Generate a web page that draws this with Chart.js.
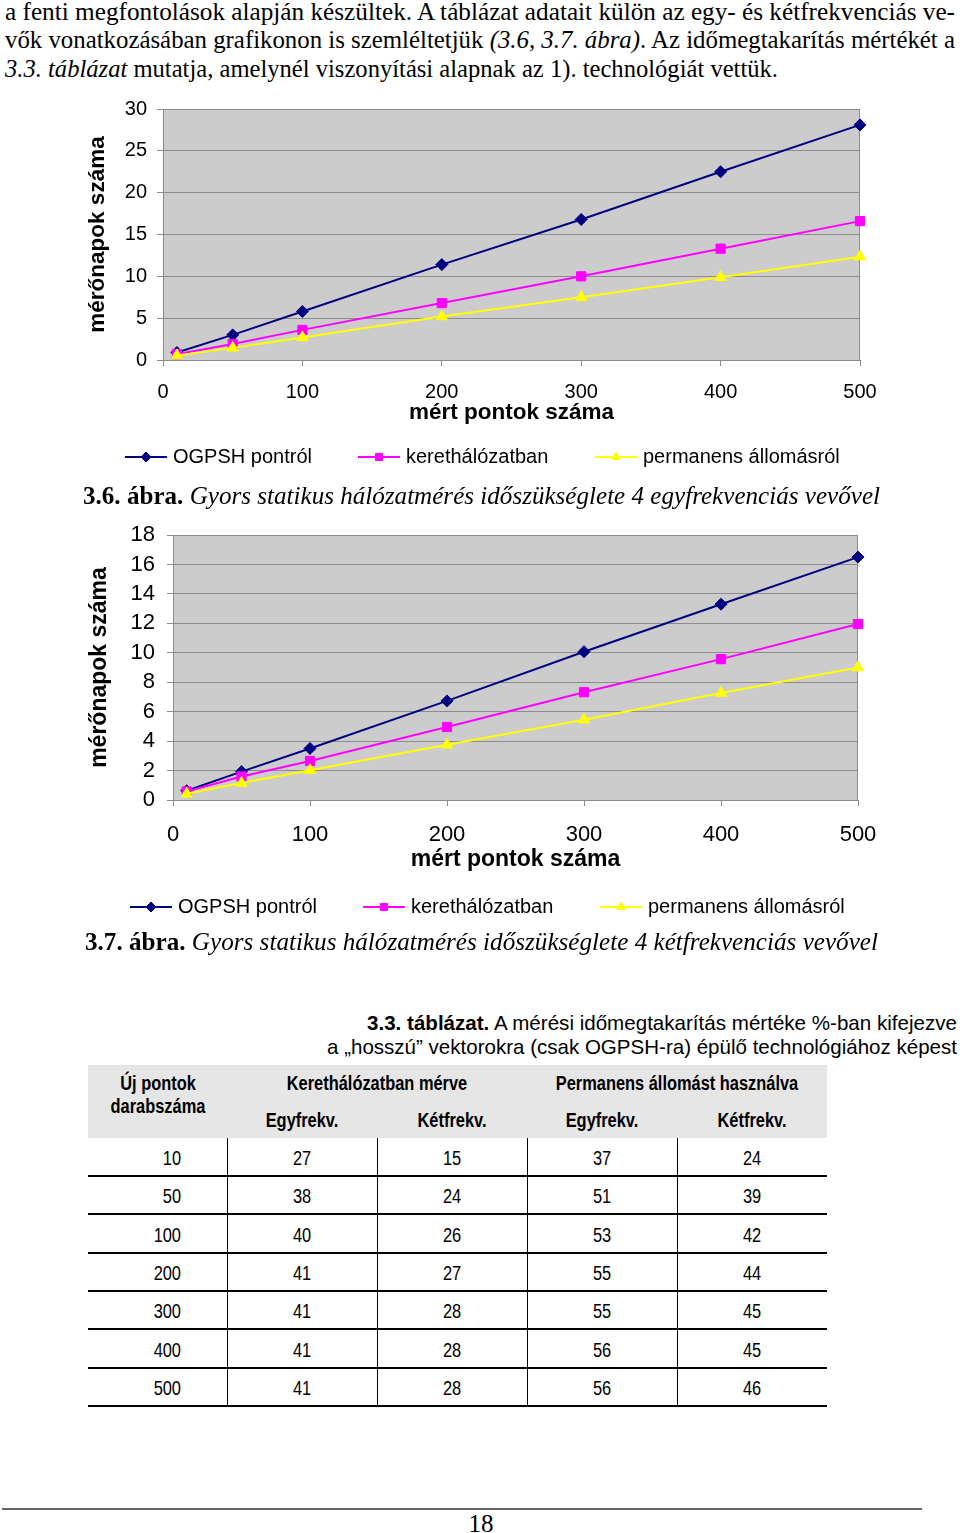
<!DOCTYPE html>
<html><head><meta charset="utf-8">
<script src="https://cdn.jsdelivr.net/npm/chart.js@4/dist/chart.umd.min.js"></script>
<style>
html,body{margin:0;padding:0;background:#fff;}
body{width:960px;height:1533px;position:relative;overflow:hidden;}
.t{position:absolute;white-space:nowrap;line-height:1;transform-origin:0 0;color:#000;}
.serif{font-family:'Liberation Serif','Times New Roman',serif;}
.sans{font-family:'Liberation Sans',Arial,sans-serif;}
canvas{position:absolute;}
</style></head><body>

<div class="t serif fit" data-w="950" style="left:5px;top:-1px;font-size:26px;">a fenti megfontolások alapján készültek. A táblázat adatait külön az egy- és kétfrekvenciás ve-</div>
<div class="t serif fit" data-w="950" style="left:5px;top:27px;font-size:26px;">vők vonatkozásában grafikonon is szemléltetjük <i>(3.6, 3.7. ábra)</i>. Az időmegtakarítás mértékét a</div>
<div class="t serif fit" data-w="773" style="left:5px;top:56px;font-size:26px;"><i>3.3. táblázat</i> mutatja, amelynél viszonyítási alapnak az 1). technológiát vettük.</div>

<canvas id="c1" width="800" height="390" style="left:80px;top:95px;"></canvas>
<div class="t serif fit" data-w="797" style="left:83px;top:483px;font-size:26px;"><b>3.6. ábra.</b> <i>Gyors statikus hálózatmérés időszükséglete 4 egyfrekvenciás vevővel</i></div>

<canvas id="c2" width="800" height="405" style="left:80px;top:520px;"></canvas>
<div class="t serif fit" data-w="793" style="left:85px;top:929px;font-size:26px;"><b>3.7. ábra.</b> <i>Gyors statikus hálózatmérés időszükséglete 4 kétfrekvenciás vevővel</i></div>

<div class="t sans fit" data-w="590" style="left:367px;top:1012px;font-size:21px;"><b>3.3. táblázat.</b> A mérési időmegtakarítás mértéke %-ban kifejezve</div>
<div class="t sans fit" data-w="630" style="left:327px;top:1036px;font-size:21px;">a „hosszú” vektorokra (csak OGPSH-ra) épülő technológiához képest</div>

<div id="tbl"></div>

<div style="position:absolute;left:2px;top:1508px;width:920px;height:2px;background:#666;"></div>
<div class="t serif" style="left:481px;top:1511px;font-size:25px;transform:translateX(-50%);">18</div>

<script>
// ---------- data ----------
const xPoints = [10, 50, 100, 200, 300, 400, 500];
const seriesLabels = ['OGPSH pontról', 'kerethálózatban', 'permanens állomásról'];
const xAxisTitle = 'mért pontok száma';
const yAxisTitle = 'mérőnapok száma';

// 3.6 ábra – egyfrekvenciás
const egyOGPSH = [0.9, 3.0, 5.8, 11.4, 16.8, 22.5, 28.1];
const egyKeret = [0.7, 1.9, 3.6, 6.8, 10.0, 13.3, 16.6];
const egyPerm  = [0.55, 1.45, 2.7, 5.2, 7.5, 9.9, 12.35];

// 3.7 ábra – kétfrekvenciás
const ketOGPSH = [0.63, 1.93, 3.5, 6.73, 10.07, 13.3, 16.5];
const ketKeret = [0.58, 1.6, 2.65, 4.96, 7.32, 9.57, 11.95];
const ketPerm  = [0.42, 1.15, 2.02, 3.75, 5.45, 7.27, 9.0];

// 3.3 táblázat
const tableCounts = [10, 50, 100, 200, 300, 400, 500];
const keretEgy = [27, 38, 40, 41, 41, 41, 41];
const keretKet = [15, 24, 26, 27, 28, 28, 28];
const permEgy  = [37, 51, 53, 55, 55, 56, 56];
const permKet  = [24, 39, 42, 44, 45, 45, 46];

// ---------- styles ----------
const STY = [
  {color:'#000080', ps:'rectRot', r:6},
  {color:'#FF00FF', ps:'rect', r:6.5},
  {color:'#FFFF00', ps:'triangle', r:6.5}
];
const GRID = '#8C8C8C';

Chart.defaults.font.family = "'Liberation Sans', Arial, sans-serif";
Chart.defaults.color = '#000';

const plotBg = {
  id:'plotBg',
  beforeDraw(chart, args, o){
    const {ctx, chartArea:a} = chart;
    ctx.save(); ctx.fillStyle = o.color; ctx.fillRect(a.left, a.top, a.width, a.height); ctx.restore();
  },
  beforeDatasetsDraw(chart, args, o){
    const {ctx, chartArea:a} = chart;
    ctx.save(); ctx.strokeStyle = o.border; ctx.lineWidth = 1;
    const xr = Math.round(a.right) - 0.5;
    ctx.beginPath(); ctx.moveTo(xr, a.top); ctx.lineTo(xr, a.bottom); ctx.stroke();
    ctx.restore();
  }
};

const xlLegend = {
  id:'xlLegend',
  afterDraw(chart, args, o){
    const ctx = chart.ctx;
    ctx.save();
    chart.data.datasets.forEach((ds, i) => {
      const x0 = o.xs[i], y = o.y, len = 42;
      ctx.strokeStyle = ds.borderColor; ctx.lineWidth = 2;
      ctx.beginPath(); ctx.moveTo(x0, y); ctx.lineTo(x0 + len, y); ctx.stroke();
      ctx.fillStyle = ds.borderColor; ctx.strokeStyle = ds.borderColor; ctx.lineWidth = 1;
      Chart.helpers.drawPoint(ctx, {pointStyle: ds.pointStyle, radius: 5, rotation: 0, borderWidth: 1}, x0 + len/2, y);
      ctx.fillStyle = '#000';
      ctx.font = "20px 'Liberation Sans', Arial, sans-serif";
      ctx.textBaseline = 'middle'; ctx.textAlign = 'left';
      ctx.fillText(ds.label, x0 + len + 6, y);
    });
    ctx.restore();
  }
};

function makeChart(id, series, yMax, yStep, L){
  const datasets = series.map((vals, i) => ({
    label: seriesLabels[i],
    data: xPoints.map((x, j) => ({x: x, y: vals[j]})),
    borderColor: STY[i].color, backgroundColor: STY[i].color,
    borderWidth: 2, pointStyle: STY[i].ps, pointRadius: STY[i].r,
    pointBorderWidth: 1, pointBorderColor: STY[i].color, pointBackgroundColor: STY[i].color,
    tension: 0, clip: false, order: 3 - i
  }));
  return new Chart(document.getElementById(id), {
    type:'line',
    data:{datasets},
    options:{
      responsive:false, animation:false, events:[], devicePixelRatio:1,
      layout:{padding:{top:L.padTop, right:L.padRight, bottom:L.padBottom, left:0}},
      plugins:{
        legend:{display:false}, tooltip:{enabled:false},
        plotBg:{color:'#CCCCCC', border:GRID},
        xlLegend:{y:L.legY, xs:L.legXs}
      },
      scales:{
        x:{type:'linear', min:0, max:500,
           ticks:{stepSize:100, font:{size:L.tickSize}, padding:L.xTickPad, maxRotation:0, autoSkip:false},
           grid:{drawOnChartArea:false, tickLength:6, color:GRID},
           border:{color:GRID},
           title:{display:true, text:xAxisTitle, font:{size:L.titleSize, weight:'bold'}, padding:{top:0, bottom:0}},
           afterFit(s){ s.height = L.xH; s.paddingLeft = 0; s.paddingRight = 0; s.paddingTop = 0; s.paddingBottom = 0; }},
        y:{min:0, max:yMax,
           ticks:{stepSize:yStep, font:{size:L.tickSize}, padding:L.yTickPad, autoSkip:false},
           grid:{color:GRID, tickLength:6},
           border:{color:GRID},
           title:{display:true, text:yAxisTitle, font:{size:L.titleSize, weight:'bold'}, padding:{top:L.yTitlePad, bottom:0}},
           afterFit(s){ s.width = L.yW; s.paddingLeft = 0; s.paddingRight = 0; s.paddingTop = 0; s.paddingBottom = 0; }}
      }
    },
    plugins:[plotBg, xlLegend]
  });
}

makeChart('c1', [egyOGPSH, egyKeret, egyPerm], 30, 5, {
  padTop:14, padRight:20, padBottom:58.5, xH:66.5, yW:83,
  tickSize:20, titleSize:22.5, xTickPad:14, yTickPad:10, yTitlePad:4.5,
  legY:362, legXs:[45, 278, 515]
});
makeChart('c2', [ketOGPSH, ketKeret, ketPerm], 18, 2, {
  padTop:15, padRight:22, padBottom:51.2, xH:73.8, yW:93,
  tickSize:22, titleSize:23, xTickPad:16, yTickPad:12, yTitlePad:6.2,
  legY:387, legXs:[50, 283, 520]
});

// ---------- table ----------
const tbl = document.getElementById('tbl');
const SX = 0.82;
function txt(s, x, baseline, size, bold, align){
  const d = document.createElement('div');
  d.className = 't sans';
  d.textContent = s;
  d.style.fontSize = size + 'px';
  if (bold) d.style.fontWeight = 'bold';
  d.style.left = x + 'px';
  d.style.top = (baseline - 0.8465 * size) + 'px';
  const tr = align === 'center' ? ' translateX(-50%)' : align === 'right' ? ' translateX(-100%)' : '';
  d.style.transform = 'scaleX(' + SX + ')' + tr;
  tbl.appendChild(d);
}
function box(l, t, w, h, c){
  const d = document.createElement('div');
  d.style.cssText = 'position:absolute;left:'+l+'px;top:'+t+'px;width:'+w+'px;height:'+h+'px;background:'+c+';';
  tbl.appendChild(d);
}
const TL = 88, TR = 827;
box(TL, 1065, TR - TL, 73, '#E6E6E6');
txt('Új pontok', 158, 1090, 20, true, 'center');
txt('darabszáma', 158, 1113, 20, true, 'center');
txt('Kerethálózatban mérve', 377, 1090, 20, true, 'center');
txt('Permanens állomást használva', 677, 1090, 20, true, 'center');
const subCx = [302, 452, 602, 752];
['Egyfrekv.', 'Kétfrekv.', 'Egyfrekv.', 'Kétfrekv.'].forEach((s, i) => txt(s, subCx[i], 1127, 20, true, 'center'));

const rowH = 38.3;
const cols = [keretEgy, keretKet, permEgy, permKet];
tableCounts.forEach((n, r) => {
  const bl = 1165 + r * rowH;
  txt(String(n), 181, bl, 20, false, 'right');
  cols.forEach((c, k) => txt(String(c[r]), subCx[k], bl, 20, false, 'center'));
  box(TL, Math.round(1175 + r * rowH), TR - TL, 2, '#000');
});
[227, 377, 527, 677].forEach(x => box(x, 1138, 1, 1405 - 1138, '#000'));

// ---------- fit text lines ----------
function fit(){
  document.querySelectorAll('.fit').forEach(el => {
    el.style.transform = 'none';
    const nat = el.getBoundingClientRect().width;
    const w = parseFloat(el.dataset.w);
    el.style.transform = 'scaleX(' + (w / nat) + ')';
  });
}
fit();
if (document.fonts && document.fonts.ready) document.fonts.ready.then(fit);
</script>
</body></html>
